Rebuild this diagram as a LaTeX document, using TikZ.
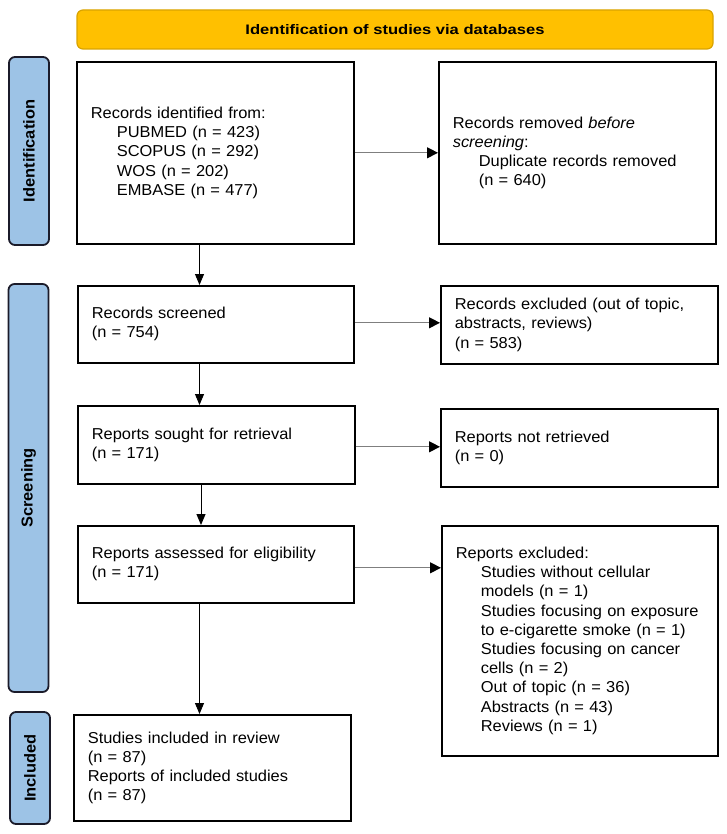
\documentclass[tikz,border=0pt]{standalone}
\usepackage{fontspec}
\setmainfont{Liberation Sans}[FakeStretch=1.04]
\newfontfamily\bannerfont{Liberation Sans}[FakeStretch=1.2]
\usetikzlibrary{arrows.meta,calc}
\definecolor{bannerfill}{HTML}{FFC000}
\definecolor{bannerdraw}{HTML}{D9A300}
\definecolor{phasefill}{HTML}{9DC3E6}
\definecolor{phasedraw}{HTML}{1B1B2A}
\definecolor{arrowgray}{HTML}{7F7F7F}
\newcommand{\ind}{\hspace*{26pt}}
\begin{document}
\begin{tikzpicture}[x=1pt,y=-1pt,
  flowbox/.style={draw=black, line width=1.6pt, anchor=north west, align=left,
    inner xsep=14pt, inner ysep=0pt, font=\fontsize{15.8}{19.2}\selectfont},
  phase/.style={draw=phasedraw, fill=phasefill, line width=1.8pt, rounded corners=6pt,
    rotate=90, minimum height=40pt, inner sep=0pt,
    font=\fontsize{15.8}{19}\selectfont\bfseries},
  banner/.style={draw=bannerdraw, fill=bannerfill, line width=1.2pt, rounded corners=6pt,
    inner sep=0pt, font=\bannerfont\fontsize{13.8}{16}\selectfont\bfseries},
  harrow/.style={draw=arrowgray, line width=1.1pt, -{Triangle[length=11pt,width=11pt,color=black]}},
  varrow/.style={draw=black, line width=1pt, -{Triangle[length=11pt,width=9pt]}}
]
\useasboundingbox (0,0) rectangle (727,834);

% banner
\node[banner, minimum width=636pt, minimum height=39pt] (ban) at (395,29.5)
  {Identification of studies via databases};

% phase labels
\node[phase, minimum width=188pt] (lid) at (29,151) {Identification};
\node[phase, minimum width=408pt] (lscr) at (28.5,488) {Screening};
\node[phase, minimum width=112pt] (linc) at (30,768) {Included};

% boxes
\node[flowbox, minimum width=277pt, text width=249pt, minimum height=182pt] (A) at (76,61)
  {Records identified from:\\
   \ind PUBMED (n = 423)\\
   \ind SCOPUS (n = 292)\\
   \ind WOS (n = 202)\\
   \ind EMBASE (n = 477)};
\node[flowbox, minimum width=277pt, text width=249pt, minimum height=182pt] (B) at (438,61)
  {Records removed \textit{before}\\
   \textit{screening}:\\
   \ind Duplicate records removed\\
   \ind (n = 640)};

\node[flowbox, minimum width=276pt, text width=248pt, minimum height=77pt] (C) at (77,285)
  {Records screened\\ (n = 754)};
\node[flowbox, minimum width=277pt, text width=249pt, minimum height=78pt] (D) at (440,285)
  {Records excluded (out of topic,\\ abstracts, reviews)\\ (n = 583)};

\node[flowbox, minimum width=277pt, text width=249pt, minimum height=78pt] (E) at (77,405)
  {Reports sought for retrieval\\ (n = 171)};
\node[flowbox, minimum width=277pt, text width=249pt, minimum height=78pt] (F) at (440,408)
  {Reports not retrieved\\ (n = 0)};

\node[flowbox, minimum width=276pt, text width=248pt, minimum height=77pt] (G) at (77,525)
  {Reports assessed for eligibility\\ (n = 171)};
\node[flowbox, minimum width=276pt, text width=248pt, minimum height=230pt] (H) at (441,525)
  {Reports excluded:\\
   \hspace*{25pt}Studies without cellular\\
   \hspace*{25pt}models (n = 1)\\
   \hspace*{25pt}Studies focusing on exposure\\
   \hspace*{25pt}to e-cigarette smoke (n = 1)\\
   \hspace*{25pt}Studies focusing on cancer\\
   \hspace*{25pt}cells (n = 2)\\
   \hspace*{25pt}Out of topic (n = 36)\\
   \hspace*{25pt}Abstracts (n = 43)\\
   \hspace*{25pt}Reviews (n = 1)};

\node[flowbox, minimum width=277pt, text width=249pt, minimum height=106pt] (I) at (73,714)
  {Studies included in review\\ (n = 87)\\ Reports of included studies\\ (n = 87)};

% horizontal arrows
\coordinate (c2) at ($(C.east)+(0,-1.5)$);
\coordinate (e2) at ($(E.east)+(0,2)$);
\coordinate (g2) at ($(G.east)+(0,3.5)$);
\draw[harrow] (A) -- (B);
\draw[harrow] (c2) -- (c2 -| D.west);
\draw[harrow] (e2) -- (e2 -| F.west);
\draw[harrow] (g2) -- (g2 -| H.west);

% vertical arrows
\coordinate (a1) at ($(A.south west)+(123.5,0)$);
\coordinate (c1) at ($(C.south west)+(122.5,0)$);
\coordinate (e1) at ($(E.south west)+(124,0)$);
\coordinate (g1) at ($(G.south west)+(122.5,0)$);
\draw[varrow] (a1) -- (a1 |- C.north);
\draw[varrow] (c1) -- (c1 |- E.north);
\draw[varrow] (e1) -- (e1 |- G.north);
\draw[varrow] (g1) -- (g1 |- I.north);
\end{tikzpicture}
\end{document}
